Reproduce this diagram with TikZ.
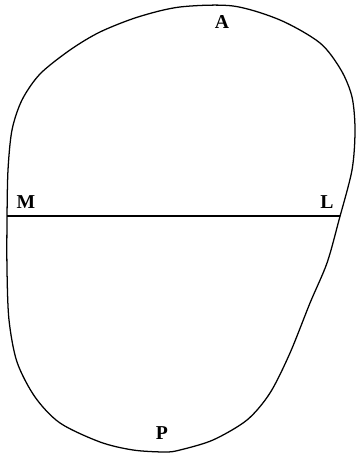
\documentclass[tikz,border=0pt]{standalone}
\usepackage{fontspec}
\setmainfont{Liberation Serif}
\usetikzlibrary{positioning}

\begin{document}
\begin{tikzpicture}[
    x=0.025cm, y=-0.025cm,
    outline/.style={draw, line width=0.9pt, line join=round},
    lbl/.style={font=\fontsize{14}{16}\selectfont\bfseries, inner sep=0pt},
  ]
    \useasboundingbox (0,0) rectangle (356,457);

    % outline of the section
    \draw[outline] plot[smooth cycle, tension=0.5] coordinates {
        (180,7) (233,6) (280,20) (320,43) (341,70) (352,97) (355,130)
        (352,170) (339,220) (327,263) (310,303) (290,353) (270,393)
        (247,420) (213,440) (180,450) (165,452) (133,450) (100,442)
        (60,423) (35,397) (17,362) (9,320) (7,270) (7,220) (8,170)
        (12,130) (22,100) (40,74) (70,50) (100,32) (138,17)};

    \coordinate (m) at (7,216);
    \coordinate (l) at (340,216);
    \draw[outline] (m) -- (l);

    \node[lbl] (A) at (222,22)  {A};
    \node[lbl] (M) at (26,202)  {M};
    \node[lbl] (L) at (327,202) {L};
    \node[lbl] (P) at (162,433) {P};
  \end{tikzpicture}
\end{document}
